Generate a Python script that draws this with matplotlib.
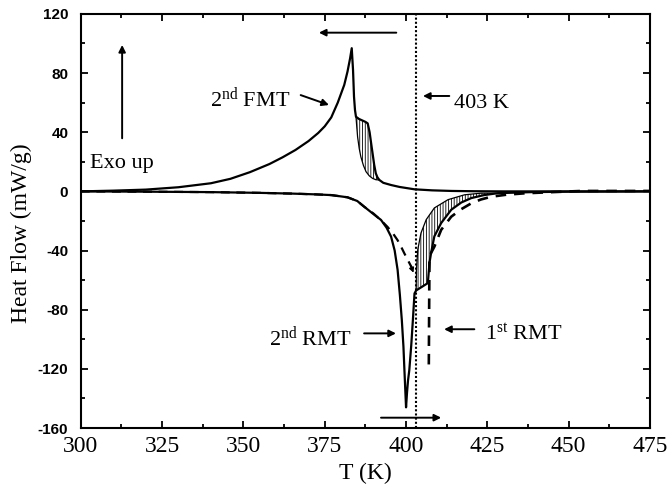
import numpy as np
import matplotlib
matplotlib.use("Agg")
import matplotlib.pyplot as plt
from matplotlib.ticker import MultipleLocator

plt.rcParams['font.family'] = ['Liberation Serif', 'DejaVu Serif']
plt.rcParams['mathtext.fontset'] = 'custom'
plt.rcParams['mathtext.rm'] = 'Liberation Serif'
plt.rcParams['mathtext.it'] = 'Liberation Serif:italic'
plt.rcParams['axes.unicode_minus'] = False

# --- 2nd cooling run (forward martensitic transformation), outer trace
T_fmt = [300, 310, 320, 330, 340, 346, 352, 358, 362, 366, 370, 373, 375, 377,
         379, 381, 382, 382.8, 383.3, 383.7, 384.0, 384.3, 384.6, 385.5, 386.5,
         387.5, 388.2, 388.8, 389.3, 389.7, 390.2, 390.7, 391.2, 391.8, 393,
         395.4, 398, 402.6, 408, 414, 421, 430, 445, 460, 475]
H_fmt = [0, 0.5, 1.2, 2.8, 5.5, 8.5, 13.0, 18.5, 23, 28, 34, 39.5, 44, 50,
         60, 72, 81, 90, 96.8, 82, 64, 55, 50.5, 49, 48, 47, 46, 40, 32,
         25.8, 18, 12.2, 9.5, 7.7, 5.8, 4.3, 3.0, 1.4, 0.7, 0.3, 0.1, 0, 0, 0, 0]
# inner trace bounding the shaded shoulder
T_fmt_in = [384.6, 385.1, 385.6, 386.1, 386.9, 387.7, 388.7, 389.7, 390.7, 391.8]
H_fmt_in = [50.5, 36.9, 29, 23.4, 17.5, 13.3, 10.5, 8.8, 7.9, 7.7]

# --- 2nd heating run (reverse martensitic transformation)
T_rmt2 = [300, 320, 340, 355, 365, 372, 377, 382, 385, 387.1, 389.5, 392.3,
          394, 395.4, 396.5, 397.4, 398.1, 398.7, 399.2, 399.5, 399.8, 400.0,
          400.3, 400.6, 401.0, 401.6, 402.1, 402.6, 403.1, 406.7, 407.2, 407.7,
          408.7, 410.8, 413.9, 417, 420.1, 424, 428.3, 438.6, 450, 475]
H_rmt2 = [0, -0.2, -0.5, -1.0, -1.5, -2.0, -2.5, -4.0, -6.5, -10.3, -14.5, -19.3,
          -24.5, -30.6, -40, -53, -70, -87, -105, -120.8, -136, -146,
          -136, -128, -120.8, -104, -87, -69, -67, -62, -48.4, -41.6,
          -30.4, -21.4, -12.4, -7.5, -4.5, -2.5, -1.2, -0.5, -0.2, 0]
T_rmt2_in = [403.1, 403.2, 403.6, 404.6, 406.2, 408.7, 412.9, 418, 423.1, 428.3]
H_rmt2_in = [-67, -53, -39.4, -28.1, -19.1, -11.2, -5.6, -2.3, -1.2, -1.2]

# --- 1st heating run (dashed)
T_rmt1_a = [300, 320, 340, 355, 365, 372, 377, 382, 385, 387.1, 390, 392.5,
            394.3, 396, 397.4, 398.5, 399.5, 400.8, 402.1]
H_rmt1_a = [0, -0.2, -0.5, -1.0, -1.5, -2.0, -2.5, -4.0, -6.5, -10.3, -15, -20,
            -24, -28.5, -33, -37.5, -42, -47.5, -53]
T_rmt1_b = [407.0, 407.1, 407.2, 407.6, 408.7, 410.8, 413.9, 417, 420.1, 423,
            426.2, 431, 436.5, 445, 454, 475]
H_rmt1_b = [-117, -80, -46, -42, -37.4, -26, -17.1, -12, -8, -5.5,
            -3.6, -2.2, -1.3, -0.5, 0.3, 0.3]

T_mark = 403
x_ticks = [300, 325, 350, 375, 400, 425, 450, 475]
y_ticks = [-160, -120, -80, -40, 0, 40, 80, 120]

fig = plt.figure(figsize=(6.68, 4.96), dpi=100)
ax = fig.add_axes([0.121, 0.137, 0.852, 0.835])

lw = 1.6
ax.plot(T_fmt, H_fmt, color='k', lw=lw)
ax.plot(T_fmt_in, H_fmt_in, color='k', lw=0.9)
ax.plot(T_rmt2, H_rmt2, color='k', lw=lw)
ax.plot(T_rmt2_in, H_rmt2_in, color='k', lw=0.9)
ax.plot(T_rmt1_a, H_rmt1_a, color='k', lw=lw, ls=(0, (4, 3)))
ax.plot(T_rmt1_b, H_rmt1_b, color='k', lw=lw + 0.3, ls=(0, (4, 3)))

plt.rcParams['hatch.linewidth'] = 0.6
# shaded areas between the inner and outer traces
i0 = T_fmt.index(384.6); i1 = T_fmt.index(391.8)
ax.fill(list(T_fmt[i0:i1 + 1]) + T_fmt_in[::-1],
        list(H_fmt[i0:i1 + 1]) + H_fmt_in[::-1],
        facecolor='none', edgecolor='k', hatch='||||||', lw=0)
j0 = T_rmt2.index(403.1); j1 = T_rmt2.index(428.3)
ax.fill(list(T_rmt2[j0:j1 + 1]) + T_rmt2_in[::-1],
        list(H_rmt2[j0:j1 + 1]) + H_rmt2_in[::-1],
        facecolor='none', edgecolor='k', hatch='||||||', lw=0)

ax.axvline(T_mark, color='k', lw=1.5, ls=(0, (1, 1)))

ap = dict(arrowstyle='-|>', lw=1.4, color='k', mutation_scale=10, shrinkA=0, shrinkB=0)
ax.annotate('', xy=(373.2, 107.3), xytext=(397, 107.3), arrowprops=ap)
ax.annotate('', xy=(410.8, -153), xytext=(392.3, -153), arrowprops=ap)
ax.annotate('', xy=(312.7, 99), xytext=(312.7, 35.9), arrowprops=ap)
ax.annotate('', xy=(405.2, 64.5), xytext=(413.3, 64.5), arrowprops=ap)
ax.annotate('', xy=(376.3, 58.4), xytext=(367.6, 65.1), arrowprops=ap)
ax.annotate('', xy=(396.9, -96), xytext=(387.1, -96), arrowprops=ap)
ax.annotate('', xy=(411.7, -93.2), xytext=(421, -93.2), arrowprops=ap)
ax.annotate('', xy=(402.3, -55), xytext=(401.4, -50),
            arrowprops=dict(arrowstyle='-|>', lw=1.0, color='k', mutation_scale=7,
                            shrinkA=0, shrinkB=0))

fs = 16
ax.text(302.8, 16, 'Exo up', fontsize=fs, va='baseline')
ax.text(339.8, 57.3, r'2$^{\mathrm{nd}}$ FMT', fontsize=fs, va='baseline')
ax.text(414.8, 56.2, '403 K', fontsize=fs, va='baseline')
ax.text(357.8, -104.5, r'2$^{\mathrm{nd}}$ RMT', fontsize=fs, va='baseline')
ax.text(424.2, -100.5, r'1$^{\mathrm{st}}$ RMT', fontsize=fs, va='baseline')

ax.set_xlim(300, 475)
ax.set_ylim(-160, 120)
ax.set_xticks(x_ticks)
ax.set_yticks(y_ticks)
ax.xaxis.set_minor_locator(MultipleLocator(12.5))
ax.yaxis.set_minor_locator(MultipleLocator(20))
ax.tick_params(which='both', direction='in', top=True, right=True, width=1.3)
ax.tick_params(which='major', length=5)
ax.tick_params(which='minor', length=3)
ax.tick_params(axis='x', labelsize=17, pad=6)
ax.tick_params(axis='y', labelsize=11, pad=9)
for lab in ax.get_yticklabels():
    lab.set_fontfamily('Liberation Sans')
    lab.set_fontweight('bold')
for s in ax.spines.values():
    s.set_linewidth(1.5)

ax.set_xlabel('T (K)', fontsize=17, labelpad=4)
ax.set_ylabel('Heat Flow (mW/g)', fontsize=17)
ax.yaxis.set_label_coords(-0.085, 0.47)

fig.savefig('out.png', dpi=100)
